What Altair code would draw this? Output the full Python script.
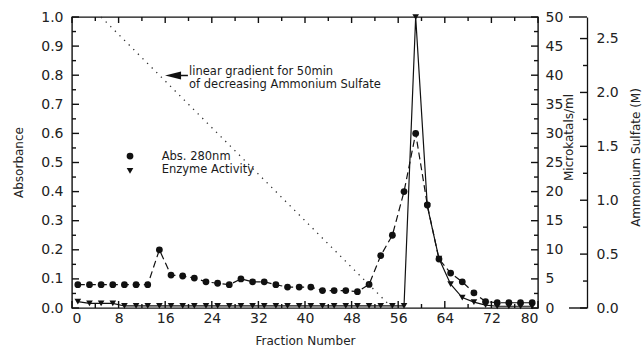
import altair as alt
import pandas as pd

# ---------------- data ----------------
fractions = list(range(1, 80, 2))
absorbance = [0.08, 0.08, 0.08, 0.08, 0.08, 0.08, 0.08, 0.20, 0.113, 0.11,
              0.103, 0.09, 0.085, 0.08, 0.10, 0.09, 0.09, 0.08, 0.072, 0.072,
              0.072, 0.06, 0.06, 0.06, 0.056, 0.081, 0.18, 0.25, 0.40, 0.60,
              0.354, 0.168, 0.12, 0.09, 0.052, 0.022, 0.018, 0.018, 0.018, 0.018]
enzyme = [1.1, 0.8, 0.8, 0.8] + [0.35] * 25 + [50.0, 17.5, 8.5, 4.1, 1.8, 1.0, 0.5, 0.3, 0.3, 0.3, 0.3]

grad_fraction = [5, 55]
grad_ammonium = [2.7, 0.0]

x_labels = list(range(0, 81, 8))
x_minor = list(range(4, 80, 8))
abs_labels = [round(i * 0.1, 1) for i in range(11)]
abs_minor = [round(0.05 + i * 0.1, 2) for i in range(10)]
mk_labels = list(range(0, 51, 5))
mk_minor = [2.5 + i * 5 for i in range(10)]
as_labels = [0.0, 0.5, 1.0, 1.5, 2.0, 2.5]
as_minor = [0.25 + i * 0.5 for i in range(5)]
as_caps = [0.0, 2.7]

# ---------------- styling ----------------
W, H = 466, 291
AS_OFF = 49
FONT = "DejaVu Sans"
INK = "#111111"

df = pd.DataFrame({"fraction": fractions, "absorbance": absorbance, "enzyme": enzyme})
gdf = pd.DataFrame({"fraction": grad_fraction, "ammonium": grad_ammonium})
one = pd.DataFrame({"k": [0]})

xs = alt.Scale(domain=[0, 80], nice=False, zero=False)
abs_s = alt.Scale(domain=[0, 1], nice=False)
mk_s = alt.Scale(domain=[0, 50], nice=False)
as_s = alt.Scale(domain=[0, 2.7], nice=False)

lab = dict(labelFont=FONT, labelFontSize=14, labelColor="#222", grid=False,
           titleFont=FONT, titleFontSize=12, titleFontWeight="normal", titleColor="#222")

x_axis = alt.Axis(values=x_labels, orient="bottom", ticks=False, tickSize=0, domain=False,
                  labelPadding=3, title="Fraction Number", titleX=233, titleY=32,
                  titleBaseline="middle", titleAlign="center", **lab)
abs_axis = alt.Axis(values=abs_labels, orient="left", ticks=False, tickSize=0, domain=False,
                    format=".1f", labelPadding=9, title="Absorbance", titleX=-54, titleY=145,
                    titleAngle=270, titleBaseline="middle", titleAlign="center", **lab)
mk_axis = alt.Axis(values=mk_labels, orient="right", ticks=False, tickSize=0, domain=False,
                   labelPadding=7, title="Microkatals/ml", titleX=30, titleY=120,
                   titleAngle=270, titleBaseline="middle", titleAlign="center", **lab)
as_axis = alt.Axis(values=as_labels, orient="right", offset=AS_OFF, ticks=False, tickSize=0,
                   domain=True, domainColor=INK, domainWidth=1.3, format=".1f", labelPadding=9,
                   title="Ammonium Sulfate (M)", titleX=48, titleY=140,
                   titleAngle=270, titleBaseline="middle", titleAlign="center", **lab)

base = alt.Chart(df)

abs_line = base.mark_line(color=INK, strokeWidth=1.2, strokeDash=[7, 4]).encode(
    x=alt.X("fraction:Q", scale=xs, axis=x_axis),
    y=alt.Y("absorbance:Q", scale=abs_s, axis=abs_axis),
)
abs_pts = base.mark_point(shape="circle", filled=True, size=46, color=INK, opacity=1).encode(
    x=alt.X("fraction:Q", scale=xs, axis=None),
    y=alt.Y("absorbance:Q", scale=abs_s, axis=None),
)
enz_line = base.mark_line(color=INK, strokeWidth=1.2).encode(
    x=alt.X("fraction:Q", scale=xs, axis=None),
    y=alt.Y("enzyme:Q", scale=mk_s, axis=mk_axis),
)
enz_pts = base.mark_point(shape="triangle-down", filled=True, size=44, color=INK, opacity=1).encode(
    x=alt.X("fraction:Q", scale=xs, axis=None),
    y=alt.Y("enzyme:Q", scale=mk_s, axis=None),
)
grad = alt.Chart(gdf).mark_line(color="#333", strokeWidth=1.3, strokeDash=[1.3, 5.2]).encode(
    x=alt.X("fraction:Q", scale=xs, axis=None),
    y=alt.Y("ammonium:Q", scale=as_s, axis=as_axis),
)

# inward-pointing tick marks: one short rule per tick value, placed via the scales
PX_X = 80 / W
PX_Y = 1 / H
X_AS = 80 + AS_OFF * PX_X


def ytick(v, scale, x0, length_px, direction):
    return alt.Chart(one).mark_rule(color=INK, strokeWidth=1.4).encode(
        x=alt.XDatum(x0, scale=xs, axis=None),
        x2=alt.X2Datum(x0 + direction * length_px * PX_X),
        y=alt.YDatum(v, scale=scale, axis=None),
    )


def xtick(v, y0, length_px, direction):
    return alt.Chart(one).mark_rule(color=INK, strokeWidth=1.4).encode(
        x=alt.XDatum(v, scale=xs, axis=None),
        y=alt.YDatum(y0, scale=abs_s, axis=None),
        y2=alt.Y2Datum(y0 + direction * length_px * PX_Y),
    )


tick_layers = (
    [ytick(v, abs_s, 0, 7, 1) for v in abs_labels]
    + [ytick(v, abs_s, 0, 4, 1) for v in abs_minor]
    + [ytick(v, mk_s, 80, 7, -1) for v in mk_labels]
    + [ytick(v, mk_s, 80, 4, -1) for v in mk_minor]
    + [ytick(v, as_s, X_AS, 7, -1) for v in as_labels]
    + [ytick(v, as_s, X_AS, 4, -1) for v in as_minor]
    + [ytick(v, as_s, X_AS, 18, -1) for v in as_caps]
    + [xtick(v, 0, 7, 1) for v in x_labels]
    + [xtick(v, 0, 4, 1) for v in x_minor]
    + [xtick(v, 1, 6, -1) for v in x_labels]
    + [xtick(v, 1, 4, -1) for v in x_minor]
)


def txt(s, xv, yv):
    return alt.Chart(one).mark_text(text=s, font=FONT, fontSize=11.5, align="left",
                                    baseline="middle", color="#1a1a1a").encode(
        x=alt.XDatum(xv, scale=xs, axis=None),
        y=alt.YDatum(yv, scale=abs_s, axis=None),
    )


note1 = txt("linear gradient for 50min", 20.1, 0.812)
note2 = txt("of decreasing Ammonium Sulfate", 20.1, 0.768)
leg1 = txt("Abs.  280nm", 15.4, 0.52)
leg2 = txt("Enzyme Activity", 15.4, 0.474)

arrow_shaft = alt.Chart(one).mark_rule(color=INK, strokeWidth=1.5).encode(
    x=alt.XDatum(17.0, scale=xs, axis=None),
    x2=alt.X2Datum(19.9),
    y=alt.YDatum(0.799, scale=abs_s, axis=None),
)
arrow_head = alt.Chart(one).mark_point(shape="M -1 0 L 1 -0.5 L 1 0.5 Z", filled=True, size=256,
                                        color=INK, opacity=1).encode(
    x=alt.XDatum(17.35, scale=xs, axis=None),
    y=alt.YDatum(0.799, scale=abs_s, axis=None),
)
leg_c = alt.Chart(one).mark_point(shape="circle", filled=True, size=46, color=INK, opacity=1).encode(
    x=alt.XDatum(9.96, scale=xs, axis=None),
    y=alt.YDatum(0.522, scale=abs_s, axis=None),
)
leg_t = alt.Chart(one).mark_point(shape="triangle-down", filled=True, size=44, color=INK, opacity=1).encode(
    x=alt.XDatum(9.96, scale=xs, axis=None),
    y=alt.YDatum(0.471, scale=abs_s, axis=None),
)

chart = alt.layer(
    abs_line, abs_pts, enz_line, enz_pts, grad,
    note1, note2, leg1, leg2, arrow_shaft, arrow_head, leg_c, leg_t,
    *tick_layers,
).resolve_scale(y="independent").resolve_axis(x="independent", y="independent").properties(
    width=W, height=H,
    autosize=alt.AutoSizeParams(type="none"),
    padding={"left": 72, "top": 17, "right": 106, "bottom": 42},
    background="white",
).configure_view(stroke=INK, strokeWidth=1.4)

chart.save("out.html", embed_options={"renderer": "svg", "actions": False})
